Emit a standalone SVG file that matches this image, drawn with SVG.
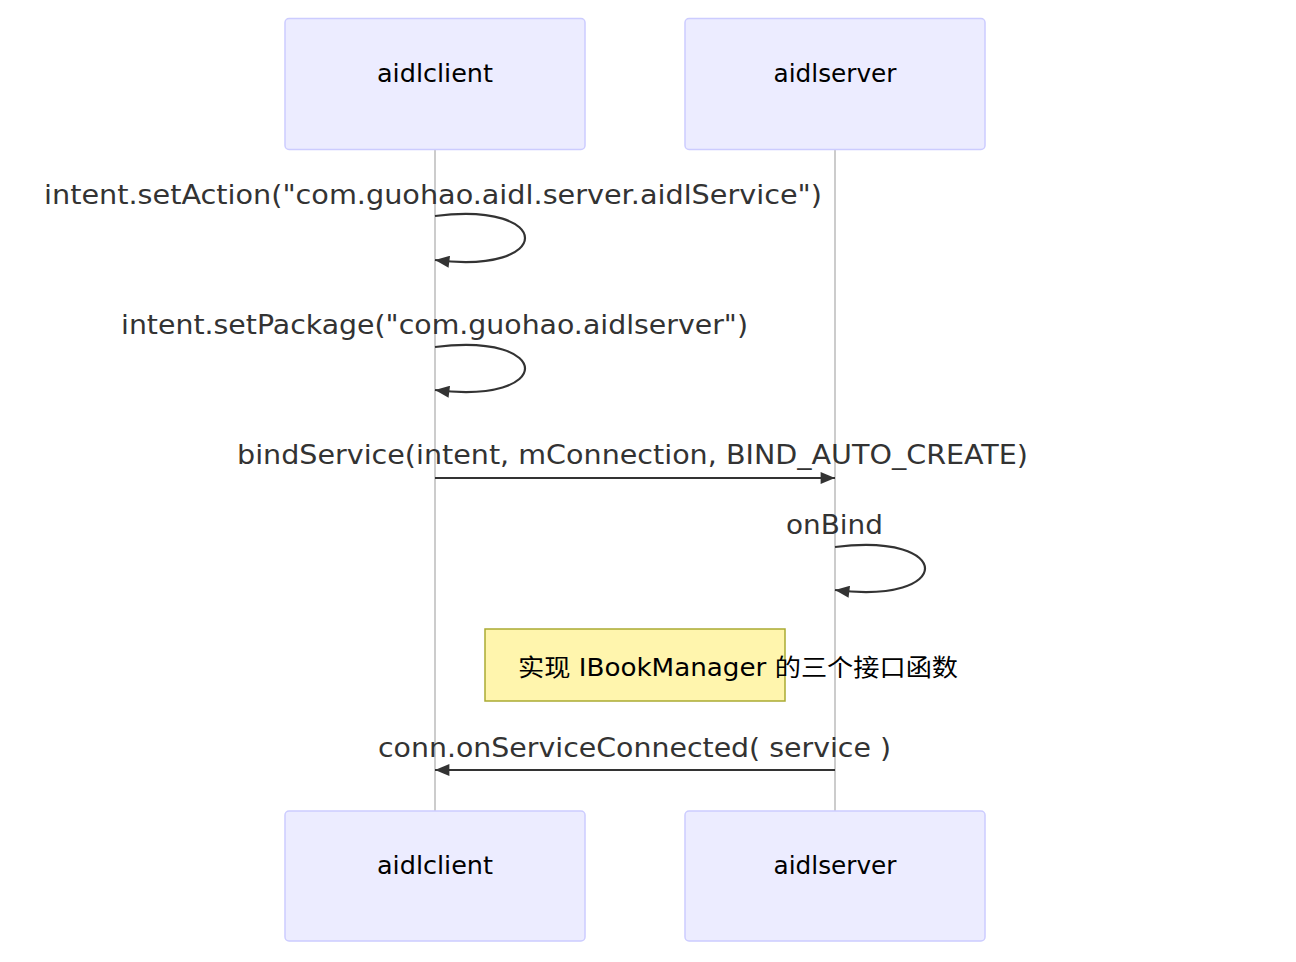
<svg xmlns="http://www.w3.org/2000/svg" width="1296" height="962" viewBox="0 0 1296 962">
<style>
.actor{fill:#ECECFF;stroke:#CCCCFF;stroke-width:1.5}
.alabel{font-family:"DejaVu Sans","Noto Sans",sans-serif;font-size:24px;fill:#000;text-anchor:middle;dominant-baseline:central}
.life{stroke:#AAAAAA;stroke-width:1.2;fill:none}
.msg{stroke:#333;stroke-width:2.2;fill:none}
.mtext{font-family:"DejaVu Sans","Noto Sans",sans-serif;font-size:26px;fill:#333;text-anchor:middle}
.note{fill:#FFF5AD;stroke:#AAAA33;stroke-width:1.5}
.ntext{font-family:"DejaVu Sans","Noto Sans CJK SC",sans-serif;font-size:24px;fill:#000}
</style>
<defs>
<marker id="arrow" viewBox="0 0 12 10" refX="12" refY="5" markerWidth="16" markerHeight="12" markerUnits="userSpaceOnUse" orient="auto">
<path d="M0,0 L12,5 L0,10 z" fill="#333"/>
</marker>
</defs>
<rect width="1296" height="962" fill="#fff"/>
<g id="lifelines">
<line class="life" x1="435" y1="149" x2="435" y2="811"/>
<line class="life" x1="835" y1="149" x2="835" y2="811"/>
</g>
<g id="aidlclient-top"><rect class="actor" x="285" y="18.500" width="300" height="131" rx="4"/><text class="alabel" x="435" y="74" textLength="116" lengthAdjust="spacingAndGlyphs">aidlclient</text></g>
<g id="aidlserver-top"><rect class="actor" x="685" y="18.500" width="300" height="131" rx="4"/><text class="alabel" x="835" y="74" textLength="123" lengthAdjust="spacingAndGlyphs">aidlserver</text></g>
<g id="aidlclient-bottom"><rect class="actor" x="285" y="811" width="300" height="130" rx="4"/><text class="alabel" x="435" y="866" textLength="116" lengthAdjust="spacingAndGlyphs">aidlclient</text></g>
<g id="aidlserver-bottom"><rect class="actor" x="685" y="811" width="300" height="130" rx="4"/><text class="alabel" x="835" y="866" textLength="123" lengthAdjust="spacingAndGlyphs">aidlserver</text></g>
<g id="note"><rect class="note" x="485" y="629" width="300" height="72"/><text class="ntext" x="518" y="676" textLength="440" lengthAdjust="spacingAndGlyphs">实现 IBookManager 的三个接口函数</text></g>
<g id="connectors">
<text class="mtext" x="433" y="204" textLength="778" lengthAdjust="spacingAndGlyphs">intent.setAction("com.guohao.aidl.server.aidlService")</text>
<path class="msg" d="M435,216 C555,201 555,275 435,260" marker-end="url(#arrow)"/>
<text class="mtext" x="434.500" y="334" textLength="627" lengthAdjust="spacingAndGlyphs">intent.setPackage("com.guohao.aidlserver")</text>
<path class="msg" d="M435,347 C555,332 555,405 435,390" marker-end="url(#arrow)"/>
<text class="mtext" x="632.500" y="464" textLength="791" lengthAdjust="spacingAndGlyphs">bindService(intent, mConnection, BIND_AUTO_CREATE)</text>
<line class="msg" x1="435" y1="478" x2="835" y2="478" marker-end="url(#arrow)"/>
<text class="mtext" x="834.500" y="534" textLength="97" lengthAdjust="spacingAndGlyphs">onBind</text>
<path class="msg" d="M835,547 C955,532 955,605 835,590" marker-end="url(#arrow)"/>
<text class="mtext" x="634.500" y="757" textLength="513" lengthAdjust="spacingAndGlyphs">conn.onServiceConnected( service )</text>
<line class="msg" x1="835" y1="770" x2="435" y2="770" marker-end="url(#arrow)"/>
</g>
</svg>
